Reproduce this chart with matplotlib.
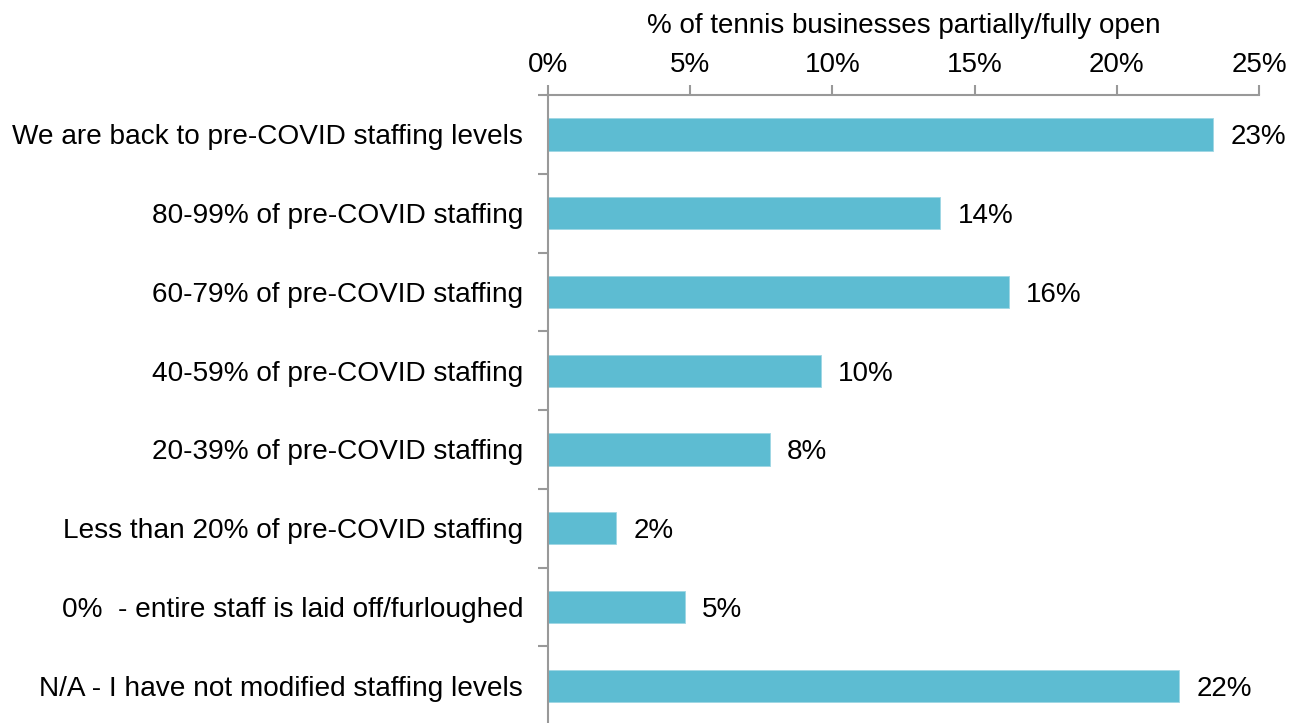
import matplotlib.pyplot as plt
from matplotlib.ticker import PercentFormatter

plt.rcParams['font.family'] = ['Liberation Sans', 'DejaVu Sans']

categories = [
    "We are back to pre-COVID staffing levels",
    "80-99% of pre-COVID staffing",
    "60-79% of pre-COVID staffing",
    "40-59% of pre-COVID staffing",
    "20-39% of pre-COVID staffing",
    "Less than 20% of pre-COVID staffing",
    "0%  - entire staff is laid off/furloughed",
    "N/A - I have not modified staffing levels",
]
shares = [23.4, 13.8, 16.2, 9.6, 7.8, 2.4, 4.8, 22.2]

fig = plt.figure(figsize=(12.91, 7.23), dpi=100)
ax = fig.add_axes([0.4245, -0.003, 0.5507, 0.8716])

pos = list(range(len(categories)))
ax.barh(pos, shares, height=0.41, color='#5DBCD2', edgecolor='#9ED6E4', linewidth=0.6)

for p, v in zip(pos, shares):
    ax.text(v + 0.6, p, f"{v:.0f}%", va='center_baseline', ha='left', fontsize=20)

ax.set_ylim(len(categories) - 0.5, -0.5)
ax.set_xlim(0, 25)
ax.set_xticks([0, 5, 10, 15, 20, 25])
ax.xaxis.set_major_formatter(PercentFormatter(decimals=0))
ax.xaxis.tick_top()
ax.xaxis.set_label_position('top')
ax.set_xlabel("% of tennis businesses partially/fully open", fontsize=20, labelpad=14)

ax.set_yticks(pos)
ax.set_yticklabels(categories, fontsize=20.2)
ax.set_yticks([i - 0.5 for i in range(len(categories) + 1)], minor=True)
ax.tick_params(axis='y', which='major', length=0, pad=18)
ax.tick_params(axis='y', which='minor', length=7, width=1.5, color='#999999')
ax.tick_params(axis='x', labelsize=20, length=7, width=1.5, color='#999999', pad=5)

for s in ['right', 'bottom']:
    ax.spines[s].set_visible(False)
for s in ['top', 'left']:
    ax.spines[s].set_color('#999999')
    ax.spines[s].set_linewidth(1.5)

fig.savefig('out.png', dpi=100)
